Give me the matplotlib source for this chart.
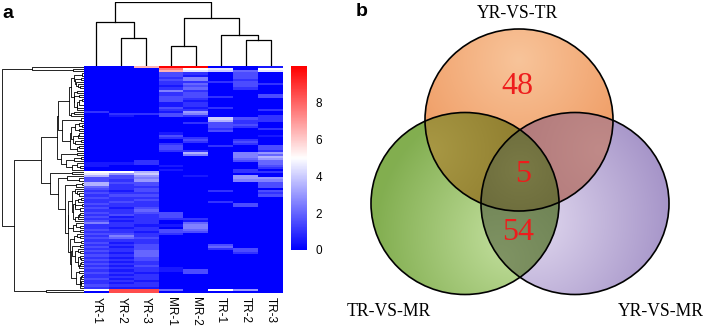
import numpy as np
import matplotlib
matplotlib.use('Agg')
import matplotlib.pyplot as plt
from matplotlib.colors import LinearSegmentedColormap
from matplotlib.patches import Ellipse

samples = ['YR-1', 'YR-2', 'YR-3', 'MR-1', 'MR-2', 'TR-1', 'TR-2', 'TR-3']

# one string per gene, one char per sample; value = int(char, 36) / 2
rows = [
    "00dkk001", "000fa90a", "000d9849",
    "00032030", "00031030", "00025030", "00035020", "00022230", "00024032",
    "00013030", "00024020", "00052000", "00023000", "00023003", "00033203",
    "00032000", "00031000", "00012000", "00012000", "00031200", "00022002",
    "20016000", "02235000", "01032002", "00000832", "00000722", "00002320",
    "00000330", "00000320", "00000202", "00000300", "00010000", "00030001",
    "00022000", "00003020", "00002030", "00020020", "00030203", "00030003",
    "00022002", "00007056", "00005054", "00000057", "00000046", "00200034",
    "11200004", "10010003", "00000002", "00010020",
    "aa700022", "96800000", "73601060", "33500066", "32600055", "73300003",
    "72300003", "42200003", "32300000", "21300203", "32200002", "23300003",
    "32200000", "22300000", "23200200", "32200030", "22200030", "31300000",
    "22400000", "32330000", "23230000", "31230000", "22222000", "31201000",
    "52204000", "22115000", "21205000", "32234000", "22133000", "33220000",
    "25200000", "34300000", "22200000", "31200000", "22300300", "31300400",
    "22300230", "32400030", "21400020", "32400000", "21300000", "32300000",
    "21200000", "32200000", "21300000", "32210000", "21213000", "32103000",
    "21200000", "22200000", "31200000", "22100000", "21200000", "32200000",
    "21100000",
    "ahh40a60", "0hh00000",
]

# column tree: (child a, child b, height); ids 8.. are the merges in order
col_merges = [(1, 2, 28.4), (0, 8, 44.0), (3, 4, 20.0), (6, 7, 26.0),
              (5, 11, 30.7), (10, 12, 47.7), (9, 13, 64.0)]

venn_names = ['YR-VS-TR', 'TR-VS-MR', 'YR-VS-MR']
venn_only_top = 48
venn_all = 5
venn_left_right = 54

W, H = 709, 328
fig = plt.figure(figsize=(W / 100, H / 100), dpi=100)


def px_axes(x0, y0, x1, y1):
    return fig.add_axes([x0 / W, 1 - y1 / H, (x1 - x0) / W, (y1 - y0) / H])


X = np.array([[int(c, 36) / 2 for c in r] for r in rows])
n = len(X)

# heatmap
cmap = LinearSegmentedColormap.from_list('bwr3', ['#0000ff', '#ffffff', '#ff0000'])
ax = px_axes(84, 66, 283, 293)
ax.imshow(X, cmap=cmap, vmin=0, vmax=10, aspect='auto', interpolation='nearest')
ax.set_xticks(range(len(samples)))
ax.set_xticklabels(samples, rotation=270, fontsize=8.5, family='Liberation Sans')
ax.tick_params(length=0, pad=3)
ax.set_yticks([])
for s in ax.spines.values():
    s.set_visible(False)

# row tree: complete linkage, only neighbouring clusters may merge (keeps row order)
D = np.sqrt(((X[:, None, :] - X[None, :, :]) ** 2).sum(-1))
clusters = [(i, i + 1, float(i), 0.0) for i in range(n)]
segs = []
while len(clusters) > 1:
    best = None
    for k in range(len(clusters) - 1):
        a, b = clusters[k], clusters[k + 1]
        d = D[a[0]:a[1], b[0]:b[1]].max()
        if best is None or d < best[0] - 1e-9:
            best = (d, k)
    d, k = best
    a, b = clusters[k], clusters[k + 1]
    segs.append((a[2], a[3], b[2], b[3], d))
    clusters[k:k + 2] = [(a[0], b[1], (a[2] + b[2]) / 2, d)]

axr = px_axes(2, 66, 84, 293)
for ya, ha, yb, hb, h in segs:
    axr.plot([ha, h, h, hb], [ya, ya, yb, yb], color='black', lw=0.6)
axr.set_xlim(segs[-1][4], 0)
axr.set_ylim(n - 0.5, -0.5)
axr.axis('off')

# column tree
axc = px_axes(84, 2, 283, 66)
pos = {i: (float(i), 0.0) for i in range(len(samples))}
for j, (a, b, h) in enumerate(col_merges):
    (xa, ha), (xb, hb) = pos[a], pos[b]
    axc.plot([xa, xa, xb, xb], [ha, h, h, hb], color='black', lw=0.9)
    pos[len(samples) + j] = ((xa + xb) / 2, h)
axc.set_xlim(-0.5, len(samples) - 0.5)
axc.set_ylim(0, col_merges[-1][2])
axc.axis('off')

# colour key
axk = px_axes(291, 66, 307, 250)
axk.imshow(np.linspace(0, 10, 200)[::-1, None], cmap=cmap, vmin=0, vmax=10,
           aspect='auto', extent=(0, 1, 0, 10))
axk.set_ylim(0, 10)
axk.set_xticks([])
axk.yaxis.tick_right()
axk.set_yticks([0, 2, 4, 6, 8])
axk.set_yticklabels(['0', '2', '4', '6', '8'], fontsize=8.5, family='Liberation Sans')
axk.tick_params(length=0, pad=6)
for s in axk.spines.values():
    s.set_visible(False)

fig.text(8 / W, 1 - 13 / H, 'a', fontsize=14, fontweight='bold',
         family='Liberation Sans', ha='center', va='center')
fig.text(362 / W, 1 - 12 / H, 'b', fontsize=14, fontweight='bold',
         family='Liberation Sans', ha='center', va='center')

# venn
axv = px_axes(340, 0, 709, 328)
rx, ry = 94, 91
centres = [(519, 120), (465, 203.5), (575, 203.5)]
s = 2
gx, gy = np.meshgrid(np.arange(340, 709, 1 / s) + 0.25, np.arange(0, 328, 1 / s) + 0.25)
inside = [((gx - cx) / rx) ** 2 + ((gy - cy) / ry) ** 2 <= 1 for cx, cy in centres]


def shade(light, dark, hx, hy, reach):
    t = np.clip(np.hypot(gx - hx, gy - hy) / reach, 0, 1)[..., None]
    return np.array(light) * (1 - t) + np.array(dark) * t


fills = {
    (1, 0, 0): shade((248, 196, 154), (238, 150, 92), 519, 60, 140),
    (0, 1, 0): shade((198, 226, 162), (130, 174, 80), 515, 235, 140),
    (0, 0, 1): shade((226, 218, 240), (162, 144, 198), 530, 220, 150),
    (1, 1, 0): shade((168, 152, 68), (140, 122, 44), 430, 150, 110),
    (1, 0, 1): shade((192, 138, 136), (174, 118, 120), 600, 150, 110),
    (0, 1, 1): shade((128, 148, 100), (110, 130, 84), 500, 260, 90),
    (1, 1, 1): shade((122, 122, 70), (106, 106, 58), 520, 170, 60),
}
img = np.ones(gx.shape + (4,))
img[..., 3] = 0
for key, col in fills.items():
    m = (inside[0] == bool(key[0])) & (inside[1] == bool(key[1])) & (inside[2] == bool(key[2]))
    img[m, :3] = col[m] / 255
    img[m, 3] = 1
axv.imshow(img, extent=(340, 709, 328, 0), interpolation='bilinear', aspect='auto')
for cx, cy in centres:
    axv.add_patch(Ellipse((cx, cy), 2 * rx, 2 * ry, fc='none', ec='black', lw=1.2))
axv.set_xlim(340, 709)
axv.set_ylim(328, 0)
axv.axis('off')

serif = 'Liberation Serif'
axv.text(517, 13, venn_names[0], fontsize=12.7, family=serif, ha='center', va='center')
axv.text(389, 312, venn_names[1], fontsize=12.7, family=serif, ha='center', va='center')
axv.text(661, 312, venn_names[2], fontsize=12.7, family=serif, ha='center', va='center')
axv.text(517, 87, str(venn_only_top), fontsize=23, family=serif, color='#ee1c1c', ha='center', va='center')
axv.text(523, 175, str(venn_all), fontsize=23, family=serif, color='#ee1c1c', ha='center', va='center')
axv.text(518, 233, str(venn_left_right), fontsize=23, family=serif, color='#ee1c1c', ha='center', va='center')

fig.savefig('out.png', dpi=100)
